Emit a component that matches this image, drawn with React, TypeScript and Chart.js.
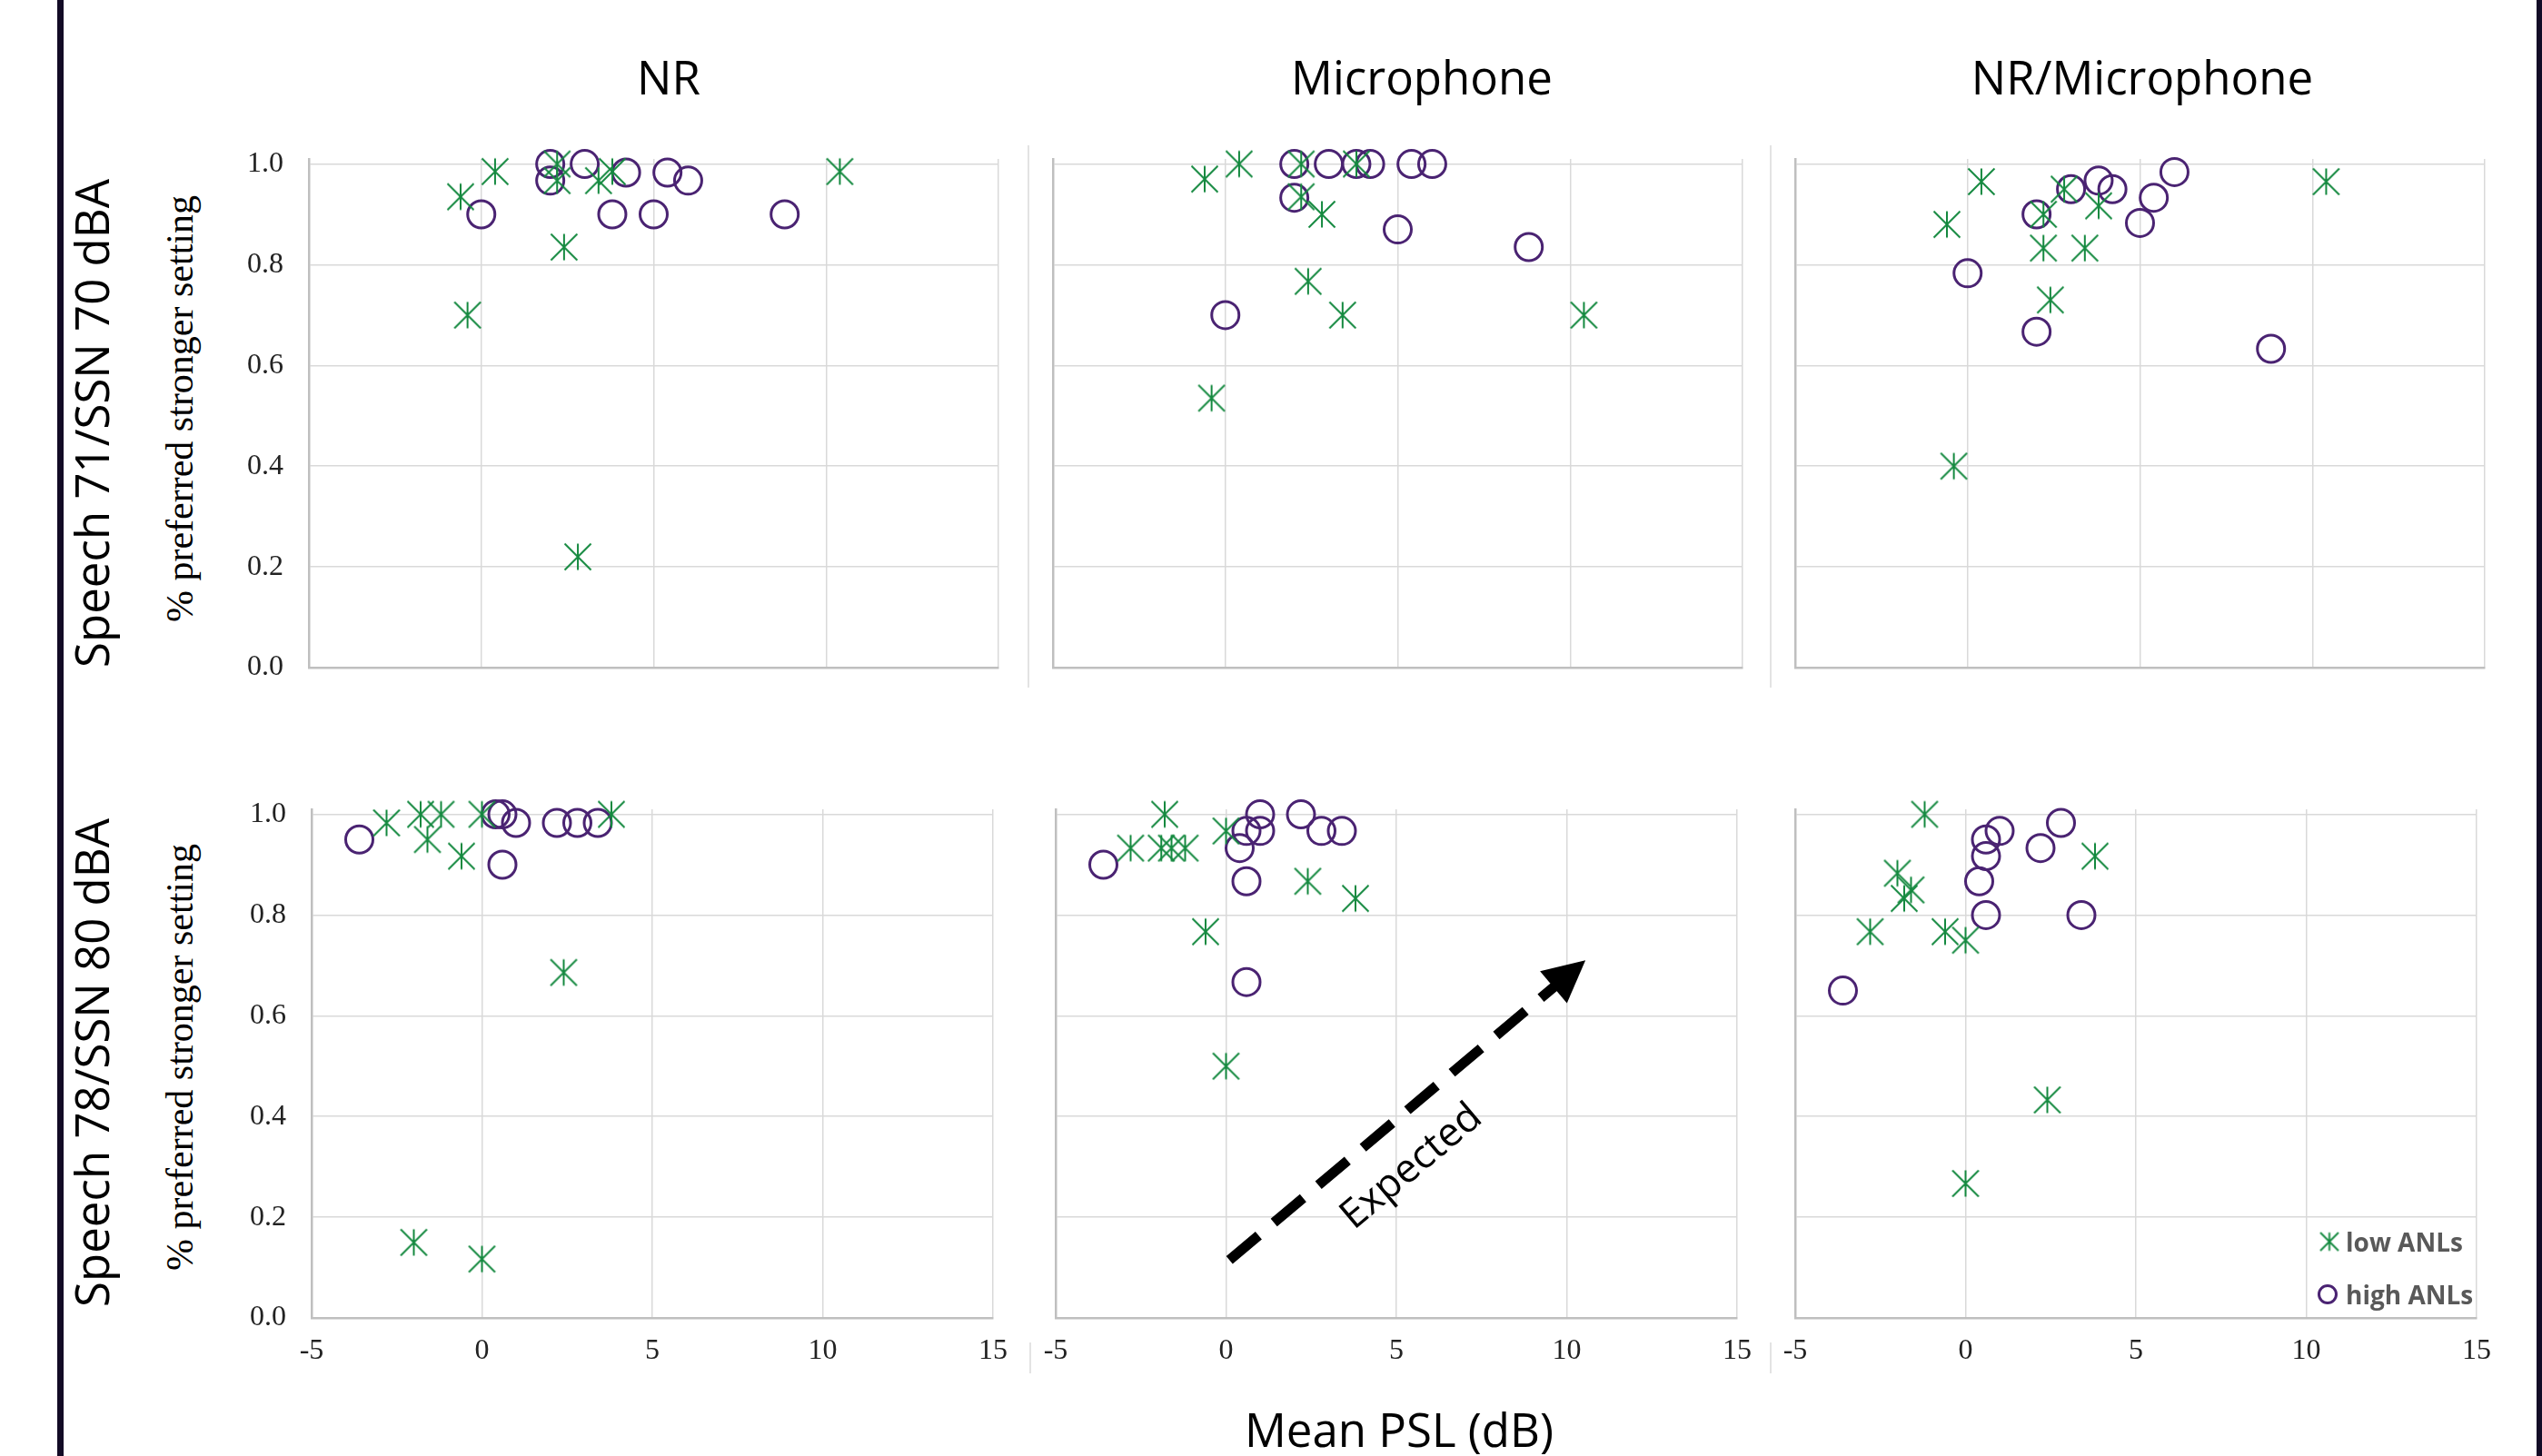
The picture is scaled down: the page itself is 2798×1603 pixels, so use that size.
import React, { useEffect, useRef } from 'react';
import { Chart, registerables } from 'chart.js';

Chart.register(...registerables);

// ---------------- data ----------------
const xTicks = [-5, 0, 5, 10, 15];
const yTicks = [0, 0.2, 0.4, 0.6, 0.8, 1.0];
const columnTitles = ['NR', 'Microphone', 'NR/Microphone'];
const rowTitles = ['Speech 71/SSN 70 dBA', 'Speech 78/SSN 80 dBA'];
const yAxisTitle = '% preferred stronger setting';
const xAxisTitle = 'Mean PSL (dB)';
const seriesLabels = ['low ANLs', 'high ANLs'];

// Row 1: Speech 71 / SSN 70 dBA
const nr71LowX = [-0.6, 0.4, 2.2, 2.2, 3.4, 3.8, 2.4, -0.4, 2.8, 10.4];
const nr71LowY = [0.935, 0.985, 1.0, 0.967, 0.967, 0.985, 0.835, 0.70, 0.22, 0.985];
const nr71HighX = [0, 2.0, 2.0, 3.0, 4.2, 3.8, 5.0, 5.4, 6.0, 8.8];
const nr71HighY = [0.90, 1.0, 0.967, 1.0, 0.983, 0.90, 0.90, 0.983, 0.967, 0.90];

const mic71LowX = [-0.6, 0.4, 2.2, 3.8, 2.2, 2.8, 2.4, 3.4, -0.4, 10.4];
const mic71LowY = [0.97, 1.0, 1.0, 1.0, 0.935, 0.90, 0.767, 0.70, 0.535, 0.70];
const mic71HighX = [2.0, 3.0, 3.8, 4.2, 5.4, 6.0, 2.0, 5.0, 8.8, 0];
const mic71HighY = [1.0, 1.0, 1.0, 1.0, 1.0, 1.0, 0.933, 0.87, 0.835, 0.70];

const nrmic71LowX = [0.4, -0.6, 2.8, 2.2, 3.8, 2.2, 3.4, 2.4, -0.4, 10.4];
const nrmic71LowY = [0.965, 0.88, 0.95, 0.90, 0.917, 0.833, 0.833, 0.73, 0.40, 0.965];
const nrmic71HighX = [6.0, 3.8, 4.2, 3.0, 2.0, 5.4, 5.0, 0, 2.0, 8.8];
const nrmic71HighY = [0.984, 0.967, 0.95, 0.95, 0.90, 0.933, 0.883, 0.783, 0.667, 0.633];

// Row 2: Speech 78 / SSN 80 dBA
const nr78LowX = [-2.8, -1.8, -1.2, -1.6, -0.6, 0, 3.8, 2.4, -2.0, 0];
const nr78LowY = [0.983, 1.0, 1.0, 0.95, 0.917, 1.0, 1.0, 0.686, 0.15, 0.117];
const nr78HighX = [-3.6, 0.4, 0.6, 1.0, 2.2, 2.8, 3.4, 0.6];
const nr78HighY = [0.95, 1.0, 1.0, 0.983, 0.983, 0.983, 0.983, 0.90];

const mic78LowX = [-1.8, -2.8, -1.9, -1.6, -1.2, 0, 2.4, 3.8, -0.6, 0];
const mic78LowY = [1.0, 0.933, 0.933, 0.933, 0.933, 0.967, 0.867, 0.833, 0.767, 0.50];
const mic78HighX = [-3.6, 1.0, 2.2, 0.6, 1.0, 0.4, 2.8, 3.4, 0.6, 0.6];
const mic78HighY = [0.90, 1.0, 1.0, 0.967, 0.967, 0.933, 0.967, 0.967, 0.867, 0.667];

const nrmic78LowX = [-1.2, -2.0, -1.6, -1.8, -2.8, -0.6, 0, 3.8, 2.4, 0];
const nrmic78LowY = [1.0, 0.883, 0.85, 0.833, 0.767, 0.767, 0.75, 0.917, 0.433, 0.267];
const nrmic78HighX = [2.8, 1.0, 0.6, 0.6, 2.2, 0.4, 0.6, 3.4, -3.6];
const nrmic78HighY = [0.983, 0.967, 0.95, 0.917, 0.933, 0.867, 0.80, 0.80, 0.65];

// "Expected" arrow annotation (data coordinates of the Microphone / Speech 78 panel)
const arrowStart = [0.1, 0.115];
const arrowEnd = [10.55, 0.71];
const expectedLabel = 'Expected';
const expectedPos = [5.45, 0.30];

// ---------------- styles ----------------
const GREEN = '#14893f';
const PURPLE = '#4a2372';
const GRID = '#d9d9d9';
const AXIS = '#bfbfbf';
const TICK_COLOR = '#222222';
const AY_W = 80;
const PAD_T = 52;
const PAD_R = 24;
const AX_H = 60;
const AREA_W = 759;
const AREA_H = 560;
const rowTops = [175, 891];
const colLefts = [[340, 1159, 1976], [343, 1162, 1976]];

function makeStar(size: number, lw: number, color: string) {
  const c = document.createElement('canvas');
  c.width = size;
  c.height = size;
  const g = c.getContext('2d')!;
  g.strokeStyle = color;
  g.lineWidth = lw;
  const m = lw / 2 + 0.5;
  g.beginPath();
  g.moveTo(size / 2, m);
  g.lineTo(size / 2, size - m);
  g.moveTo(m, m);
  g.lineTo(size - m, size - m);
  g.moveTo(size - m, m);
  g.lineTo(m, size - m);
  g.stroke();
  return c;
}

const arrowPlugin = {
  id: 'expectedArrow',
  afterDatasetsDraw(chart: any) {
    const ctx = chart.ctx;
    const xs = chart.scales.x;
    const ys = chart.scales.y;
    const x0 = xs.getPixelForValue(arrowStart[0]);
    const y0 = ys.getPixelForValue(arrowStart[1]);
    const x1 = xs.getPixelForValue(arrowEnd[0]);
    const y1 = ys.getPixelForValue(arrowEnd[1]);
    const ang = Math.atan2(y1 - y0, x1 - x0);
    const c = Math.cos(ang);
    const s = Math.sin(ang);
    const head = 46;
    const half = 23;
    const bx = x1 - head * c;
    const by = y1 - head * s;
    ctx.save();
    ctx.strokeStyle = '#000';
    ctx.fillStyle = '#000';
    ctx.lineWidth = 11;
    ctx.setLineDash([42, 22]);
    ctx.beginPath();
    ctx.moveTo(x0, y0);
    ctx.lineTo(bx + 2 * c, by + 2 * s);
    ctx.stroke();
    ctx.setLineDash([]);
    ctx.beginPath();
    ctx.moveTo(x1, y1);
    ctx.lineTo(bx - half * s, by + half * c);
    ctx.lineTo(bx + half * s, by - half * c);
    ctx.closePath();
    ctx.fill();
    const tx = xs.getPixelForValue(expectedPos[0]);
    const ty = ys.getPixelForValue(expectedPos[1]);
    ctx.translate(tx, ty);
    ctx.rotate(ang);
    ctx.font = '44px "Open Sans"';
    ctx.textAlign = 'center';
    ctx.textBaseline = 'middle';
    ctx.fillText(expectedLabel, 0, 0);
    ctx.restore();
  },
};

const legendPlugin = {
  id: 'innerLegend',
  afterDraw(chart: any) {
    const ctx = chart.ctx;
    const { right, bottom } = chart.chartArea;
    const ds = chart.data.datasets;
    ctx.save();
    const star = makeStar(23, 2, GREEN);
    ctx.drawImage(star, right - 162 - 11.5, bottom - 84 - 11.5, 23, 23);
    ctx.beginPath();
    ctx.arc(right - 164, bottom - 26, 9.5, 0, Math.PI * 2);
    ctx.lineWidth = 3;
    ctx.strokeStyle = PURPLE;
    ctx.stroke();
    ctx.fillStyle = '#595959';
    ctx.font = 'bold 28px "Open Sans"';
    ctx.textAlign = 'left';
    ctx.textBaseline = 'alphabetic';
    ctx.fillText(ds[0].label, right - 144, bottom - 73);
    ctx.fillText(ds[1].label, right - 144, bottom - 15);
    ctx.restore();
  },
};

type PanelProps = {
  left: number;
  top: number;
  lowX: number[];
  lowY: number[];
  highX: number[];
  highY: number[];
  showY: boolean;
  showX: boolean;
  extra?: any[];
};

function Panel({ left, top, lowX, lowY, highX, highY, showY, showX, extra }: PanelProps) {
  const ref = useRef<HTMLCanvasElement>(null);
  const W = AY_W + AREA_W + PAD_R;
  const H = PAD_T + AREA_H + AX_H;
  useEffect(() => {
    const star = makeStar(32, 2, GREEN);
    const tickFont = { family: '"Liberation Serif", "Times New Roman", serif', size: 32 };
    const chart = new Chart(ref.current!, {
      type: 'scatter',
      data: {
        datasets: [
          {
            label: seriesLabels[0],
            data: lowX.map((x, i) => ({ x, y: lowY[i] })),
            pointStyle: star as any,
            pointRadius: 16,
            borderColor: GREEN,
            backgroundColor: GREEN,
            clip: false as any,
          },
          {
            label: seriesLabels[1],
            data: highX.map((x, i) => ({ x, y: highY[i] })),
            pointStyle: 'circle',
            pointRadius: 15,
            borderWidth: 3,
            borderColor: PURPLE,
            backgroundColor: 'rgba(0,0,0,0)',
            clip: false as any,
          },
        ],
      },
      options: {
        responsive: false,
        animation: false,
        events: [],
        layout: { padding: { left: 0, top: PAD_T, right: PAD_R, bottom: 0 } },
        plugins: { legend: { display: false }, tooltip: { enabled: false } },
        scales: {
          x: {
            type: 'linear',
            min: xTicks[0],
            max: xTicks[xTicks.length - 1],
            afterBuildTicks: (a: any) => {
              a.ticks = xTicks.map((v) => ({ value: v }));
            },
            ticks: { display: showX, padding: 17, font: tickFont, color: TICK_COLOR, callback: (v: any) => String(v) },
            grid: { color: GRID, lineWidth: 1.5, drawTicks: false },
            border: { color: AXIS, width: 2.5 },
            afterFit: (s: any) => {
              s.height = AX_H;
            },
          },
          y: {
            type: 'linear',
            min: 0,
            max: 1.01,
            afterBuildTicks: (a: any) => {
              a.ticks = yTicks.map((v) => ({ value: v }));
            },
            ticks: { display: showY, padding: 28, font: tickFont, color: TICK_COLOR, callback: (v: any) => Number(v).toFixed(1) },
            grid: { color: GRID, lineWidth: 1.5, drawTicks: false },
            border: { color: AXIS, width: 2.5 },
            afterFit: (s: any) => {
              s.width = AY_W;
            },
          },
        },
      } as any,
      plugins: extra || [],
    });
    return () => chart.destroy();
  }, []);
  return (
    <canvas
      ref={ref}
      width={W}
      height={H}
      style={{ position: 'absolute', left: left - AY_W, top: top - PAD_T, width: W, height: H }}
    />
  );
}

function Label({ text, cx, cy, font, rotate = 0, color = '#000' }: { text: string; cx: number; cy: number; font: string; rotate?: number; color?: string }) {
  return (
    <div
      style={{
        position: 'absolute',
        left: cx,
        top: cy,
        transform: `translate(-50%, -50%) rotate(${rotate}deg)`,
        whiteSpace: 'nowrap',
        lineHeight: 1,
        font,
        color,
      }}
    >
      {text}
    </div>
  );
}

export default function App() {
  useEffect(() => {
    document.body.style.margin = '0';
    document.body.style.background = '#fff';
  }, []);
  const sansTitle = '51px "Open Sans", sans-serif';
  const serifTitle = '42px "Liberation Serif", "Times New Roman", serif';
  return (
    <div style={{ position: 'relative', width: 2798, height: 1603, overflow: 'hidden', background: '#fff' }}>
      {/* frame bars */}
      <div style={{ position: 'absolute', left: 63, top: 0, width: 7, height: 1603, background: '#120b26' }} />
      <div style={{ position: 'absolute', left: 2792, top: 0, width: 7, height: 1603, background: '#120b26' }} />
      {/* faint chart-object separators */}
      <div style={{ position: 'absolute', left: 1131, top: 160, width: 2, height: 597, background: '#e3e3e3' }} />
      <div style={{ position: 'absolute', left: 1948, top: 160, width: 2, height: 597, background: '#e3e3e3' }} />
      <div style={{ position: 'absolute', left: 1133, top: 1478, width: 2, height: 34, background: '#e3e3e3' }} />
      <div style={{ position: 'absolute', left: 1948, top: 1478, width: 2, height: 34, background: '#e3e3e3' }} />

      {/* column titles */}
      <Label text={columnTitles[0]} cx={736} cy={83.5} font={sansTitle} />
      <Label text={columnTitles[1]} cx={1565} cy={83.5} font={sansTitle} />
      <Label text={columnTitles[2]} cx={2358} cy={83.5} font={sansTitle} />

      {/* row titles */}
      <Label text={rowTitles[0]} cx={100} cy={466} font={sansTitle} rotate={-90} />
      <Label text={rowTitles[1]} cx={100} cy={1170} font={sansTitle} rotate={-90} />

      {/* y axis titles */}
      <Label text={yAxisTitle} cx={198} cy={450} font={serifTitle} rotate={-90} />
      <Label text={yAxisTitle} cx={198} cy={1164} font={serifTitle} rotate={-90} />

      {/* x axis title */}
      <Label text={xAxisTitle} cx={1540} cy={1573} font={sansTitle} />

      {/* panels */}
      <Panel left={colLefts[0][0]} top={rowTops[0]} lowX={nr71LowX} lowY={nr71LowY} highX={nr71HighX} highY={nr71HighY} showY={true} showX={false} />
      <Panel left={colLefts[0][1]} top={rowTops[0]} lowX={mic71LowX} lowY={mic71LowY} highX={mic71HighX} highY={mic71HighY} showY={false} showX={false} />
      <Panel left={colLefts[0][2]} top={rowTops[0]} lowX={nrmic71LowX} lowY={nrmic71LowY} highX={nrmic71HighX} highY={nrmic71HighY} showY={false} showX={false} />
      <Panel left={colLefts[1][0]} top={rowTops[1]} lowX={nr78LowX} lowY={nr78LowY} highX={nr78HighX} highY={nr78HighY} showY={true} showX={true} />
      <Panel left={colLefts[1][1]} top={rowTops[1]} lowX={mic78LowX} lowY={mic78LowY} highX={mic78HighX} highY={mic78HighY} showY={false} showX={true} extra={[arrowPlugin]} />
      <Panel left={colLefts[1][2]} top={rowTops[1]} lowX={nrmic78LowX} lowY={nrmic78LowY} highX={nrmic78HighX} highY={nrmic78HighY} showY={false} showX={true} extra={[legendPlugin]} />
    </div>
  );
}
